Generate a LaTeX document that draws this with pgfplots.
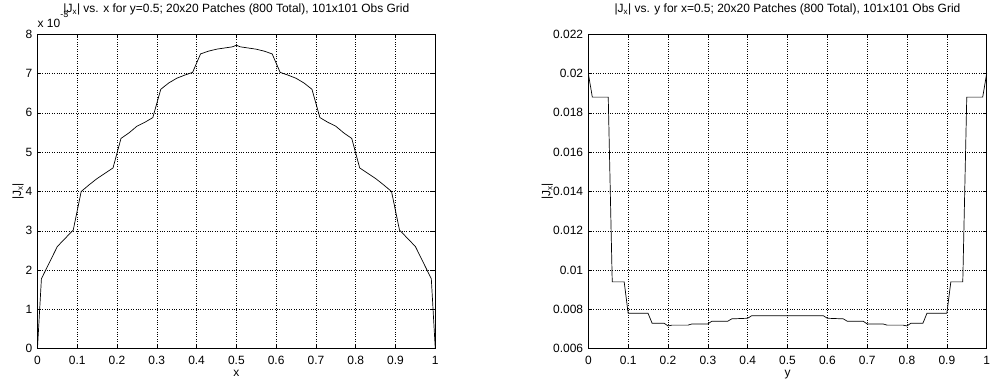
\documentclass[border=0pt]{standalone}
\usepackage{fontspec}
\setmainfont{Liberation Sans}
\usepackage{pgfplots}
\pgfplotsset{compat=1.18}
\pgfplotstableread{
x y
0.00 0.00
0.01 1.78
0.05 2.60
0.09 3.02
0.11 4.00
0.13 4.17
0.15 4.33
0.19 4.60
0.21 5.35
0.23 5.49
0.25 5.66
0.27 5.76
0.29 5.88
0.31 6.60
0.33 6.76
0.35 6.88
0.37 6.96
0.39 7.03
0.41 7.50
0.43 7.57
0.45 7.62
0.47 7.65
0.49 7.68
0.50 7.72
0.51 7.68
0.53 7.65
0.55 7.62
0.57 7.57
0.59 7.50
0.61 7.03
0.63 6.96
0.65 6.88
0.67 6.76
0.69 6.60
0.71 5.88
0.73 5.76
0.75 5.66
0.77 5.49
0.79 5.35
0.81 4.60
0.85 4.33
0.87 4.17
0.89 4.00
0.91 3.02
0.95 2.60
0.99 1.78
1.00 0.00
}\leftdata
\pgfplotstableread{
y v
0.00 0.0200
0.01 0.0188
0.05 0.0188
0.06 0.0094
0.09 0.0094
0.10 0.0078
0.15 0.0078
0.16 0.0073
0.19 0.0073
0.20 0.00716
0.21 0.0072
0.25 0.0072
0.26 0.00726
0.30 0.00726
0.31 0.0074
0.35 0.0074
0.36 0.00752
0.40 0.00755
0.41 0.00768
0.59 0.00768
0.60 0.00755
0.64 0.00752
0.65 0.0074
0.69 0.0074
0.70 0.00726
0.74 0.00726
0.75 0.0072
0.79 0.0072
0.80 0.00716
0.81 0.0073
0.84 0.0073
0.85 0.0078
0.90 0.0078
0.91 0.0094
0.94 0.0094
0.95 0.0188
0.99 0.0188
1.00 0.0200
}\rightdata
\newcommand\lblfont{\fontsize{12}{14}\selectfont}
\begin{document}
\begin{tikzpicture}
\path (0pt,0pt) rectangle (991pt,379pt);
\pgfplotsset{
  matstyle/.style={
    scale only axis, height=315pt, anchor=south west,
    xmin=0, xmax=1, clip=false,
    scaled y ticks=false, scaled x ticks=false,
    xtick={0,0.1,0.2,0.3,0.4,0.5,0.6,0.7,0.8,0.9,1},
    xticklabels={0,0.1,0.2,0.3,0.4,0.5,0.6,0.7,0.8,0.9,1},
    grid=major,
    major grid style={black, dotted, line width=0.5pt},
    tick align=inside, major tick length=4pt,
    tick style={black, line width=0.5pt},
    axis line style={black, line width=0.8pt},
    every tick label/.append style={font=\lblfont},
    /pgf/number format/assume math mode=true,
    xticklabel style={anchor=base, inner sep=0pt, yshift=-16pt},
    yticklabel style={anchor=east, inner sep=0pt, xshift=-5pt},
    title style={at={(axis description cs:0.5,1)}, anchor=base, inner sep=0pt, yshift=15.5pt, font=\lblfont},
    xlabel style={at={(axis description cs:0.5,-0.0898)}, anchor=base, inner sep=0pt, font=\lblfont},
    ylabel style={anchor=center, inner sep=0pt, font=\lblfont},
  }
}
\begin{axis}[matstyle, at={(37.5pt,29.7pt)}, width=398.5pt,
  ymin=0, ymax=8, ytick={0,1,2,3,4,5,6,7,8},
  yticklabels={0,1,2,3,4,5,6,7,8},
  title={|J\textsubscript{x}| vs. x for y=0.5; 20x20 Patches (800 Total), 101x101 Obs Grid},
  xlabel={x},
  ylabel={|J\textsubscript{x}|},
  ylabel style={at={(axis description cs:-0.0489,0.5)}},
]
\addplot[black, line width=0.7pt] table[x=x,y=y] {\leftdata};
\node[anchor=base west, inner sep=0pt, font=\lblfont] at (axis description cs:0,1.02) {x 10\raisebox{10pt}{\fontsize{9}{10}\selectfont -3}};
\end{axis}
\begin{axis}[matstyle, at={(589.3pt,29.7pt)}, width=399pt,
  ymin=0.006, ymax=0.022,
  ytick={0.006,0.008,0.010,0.012,0.014,0.016,0.018,0.020,0.022},
  yticklabels={0.006,0.008,0.01,0.012,0.014,0.016,0.018,0.02,0.022},
  title={|J\textsubscript{x}| vs. y for x=0.5; 20x20 Patches (800 Total), 101x101 Obs Grid},
  xlabel={y},
  ylabel={|J\textsubscript{x}|},
  ylabel style={at={(axis description cs:-0.1028,0.5)}},
]
\addplot[black, line width=0.7pt] table[x=y,y=v] {\rightdata};
\end{axis}
\end{tikzpicture}
\end{document}
